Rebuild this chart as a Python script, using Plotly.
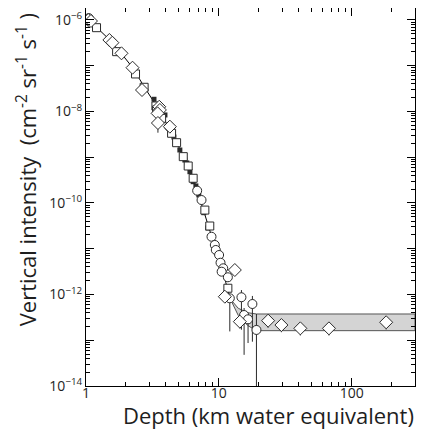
import plotly.graph_objects as go

# ---------------- data ----------------
curve_x = [1.0, 1.21, 1.51, 1.86, 2.25, 2.78, 3.47, 4.28, 5.27, 6.37, 7.57, 8.86, 10.2, 11.3, 12.2]
curve_y = [1.15e-6, 6.8e-7, 3.66e-7, 1.8e-7, 9e-8, 3.25e-8, 1.2e-8, 4e-9, 1.24e-9, 3.2e-10,
           7.8e-11, 1.8e-11, 5.1e-12, 1.8e-12, 8.0e-13]

band_x = [12.2, 14.0, 16.5, 19.2, 300]
band_upper = [8.0e-13, 5.0e-13, 4.0e-13, 3.75e-13, 3.75e-13]
band_lower = [8.0e-13, 3.5e-13, 2.1e-13, 1.62e-13, 1.62e-13]

diam_x = [1.04, 1.09, 1.50, 1.58, 1.85, 2.24, 2.64, 3.56, 3.60, 3.46, 3.48, 4.28,
          13.2, 11.1, 14.4, 23.5, 29.6, 41.1, 67.5, 182]
diam_y = [1.0e-6, 9.5e-7, 3.66e-7, 3.19e-7, 1.87e-7, 9.06e-8, 2.95e-8, 1.27e-8, 1.08e-8,
          9.1e-9, 5.6e-9, 4.66e-9, 3.43e-12, 8.95e-13, 2.55e-13, 2.68e-13, 2.15e-13,
          1.82e-13, 1.82e-13, 2.47e-13]
diam_err_plus = [0, 0, 0, 0, 0, 0, 0, 0, 0, 0, 2.1e-9, 0, 0.56e-12, 0, 0.3e-13, 0.3e-13,
                 0.3e-13, 0.3e-13, 0.3e-13, 0.3e-13]
diam_err_minus = [0, 0, 0, 0, 0, 0, 0, 0, 0, 0, 2.16e-9, 0, 0.48e-12, 0, 0.75e-13, 0.8e-13,
                  0.65e-13, 0.55e-13, 0.55e-13, 0.75e-13]

sq_x = [1.20, 1.70, 2.36, 2.74, 3.36, 3.40, 3.71, 4.41, 4.81, 5.40, 5.88, 6.41, 7.85, 8.55, 11.7]
sq_y = [6.79e-7, 2.03e-7, 6.61e-8, 3.38e-8, 1.32e-8, 1.08e-8, 7.1e-9, 3.34e-9, 2.08e-9,
        1.03e-9, 6.44e-10, 3.47e-10, 7.0e-11, 3.14e-11, 1.37e-12]

circ_x = [1.05, 4.23, 6.87, 7.41, 8.81, 9.33, 9.49, 10.05, 10.3, 10.8, 10.5, 11.7,
          12.1, 14.8, 15.5, 17.9, 16.6, 19.2]
circ_y = [1.1e-6, 4.66e-9, 1.86e-10, 1.16e-10, 1.83e-11, 1.21e-11, 9.4e-12, 7.3e-12,
          4.95e-12, 3.74e-12, 3.15e-12, 2.38e-12, 8.26e-13, 8.7e-13, 3.56e-13, 6.2e-13,
          2.87e-13, 1.68e-13]
circ_err_plus = [0, 0, 0, 0, 0, 0, 0, 0, 0, 0, 0, 0, 2.0e-13, 3.8e-13, 1.5e-13, 3.1e-13,
                 1.0e-13, 2.07e-13]
circ_err_minus = [0, 0, 0, 0, 0, 0, 0, 0, 0, 0, 0, 0, 6.7e-13, 7.0e-13, 3.08e-13, 5.27e-13,
                  2.0e-13, 1.6799e-13]

fill_x = [3.25, 3.93, 4.59, 5.09, 5.55, 5.74, 6.06, 6.41, 6.72, 7.07, 7.71, 8.26]
fill_y = [1.85e-8, 8.4e-9, 2.77e-9, 1.44e-9, 8.7e-10, 7.5e-10, 4.83e-10, 2.92e-10,
          2.36e-10, 1.5e-10, 6.14e-11, 2.85e-11]

x_tickvals = [1, 10, 100]
x_ticktext = ["1", "10", "100"]
y_label_vals = [1e-14, 1e-12, 1e-10, 1e-8, 1e-6]
y_label_text = ["10<sup>\u221214</sup>", "10<sup>\u221212</sup>", "10<sup>\u221210</sup>",
                "10<sup>\u22128</sup>", "10<sup>\u22126</sup>"]
y_odd_decades = [1e-13, 1e-11, 1e-9, 1e-7]

FONT = "Open Sans"
DARK = "#2a2a2a"
TXT = "#1e1e1e"
Y_RANGE = [-14, -5.738]

fig = go.Figure()

# shaded neutrino band (closed polygon)
fig.add_trace(go.Scatter(
    x=band_x + band_x[::-1], y=band_upper + band_lower[::-1],
    mode="lines", fill="toself", fillcolor="#d4d4d4",
    line=dict(color="#555555", width=1), hoverinfo="skip", showlegend=False))

# fit curve
fig.add_trace(go.Scatter(x=curve_x, y=curve_y, mode="lines",
                         line=dict(color="black", width=1), showlegend=False))

# small filled markers
fig.add_trace(go.Scatter(x=fill_x, y=fill_y, mode="markers",
                         marker=dict(symbol="square", size=5, color=DARK,
                                     line=dict(width=0)), showlegend=False))

# open squares
fig.add_trace(go.Scatter(x=sq_x, y=sq_y, mode="markers",
                         marker=dict(symbol="square", size=8, color="white",
                                     line=dict(color=DARK, width=1)), showlegend=False))

# open circles
fig.add_trace(go.Scatter(
    x=circ_x, y=circ_y, mode="markers",
    error_y=dict(type="data", symmetric=False, array=circ_err_plus,
                 arrayminus=circ_err_minus, color=DARK, thickness=1, width=0),
    marker=dict(symbol="circle", size=9, color="white", line=dict(color=DARK, width=1)),
    showlegend=False))

# open diamonds
fig.add_trace(go.Scatter(
    x=diam_x, y=diam_y, mode="markers",
    error_y=dict(type="data", symmetric=False, array=diam_err_plus,
                 arrayminus=diam_err_minus, color=DARK, thickness=1, width=0),
    marker=dict(symbol="diamond", size=10, color="white", line=dict(color=DARK, width=1)),
    showlegend=False))

# empty trace so the tick-only overlay axis is drawn
fig.add_trace(go.Scatter(x=[], y=[], yaxis="y2", showlegend=False, hoverinfo="skip"))

x_minor = [m * 10 ** e for e in range(0, 3) for m in range(2, 10) if m * 10 ** e <= 300]
y_minor = [m * 10.0 ** e for e in range(-14, -5) for m in range(2, 10)]

fig.update_layout(
    xaxis=dict(
        type="log", range=[0, 2.4771], tickmode="array", tickvals=x_tickvals,
        ticktext=x_ticktext, ticks="inside", ticklen=8, tickwidth=1, tickcolor="black",
        showline=True, linecolor="black", linewidth=1, mirror="ticks",
        showgrid=False, zeroline=False, ticklabelstandoff=-6,
        tickfont=dict(family=FONT, size=14, color=TXT),
        minor=dict(ticks="inside", ticklen=4, tickwidth=1, tickcolor="black",
                   tickmode="array", tickvals=x_minor, showgrid=False)),
    yaxis=dict(
        type="log", range=Y_RANGE, tickmode="array", tickvals=y_label_vals,
        ticktext=y_label_text, ticks="inside", ticklen=8, tickwidth=1, tickcolor="black",
        showline=True, linecolor="black", linewidth=1, mirror="ticks",
        showgrid=False, zeroline=False,
        tickfont=dict(family=FONT, size=14, color=TXT),
        minor=dict(ticks="inside", ticklen=4, tickwidth=1, tickcolor="black",
                   tickmode="array", tickvals=y_minor, showgrid=False)),
    yaxis2=dict(
        type="log", range=Y_RANGE, overlaying="y", side="left", tickmode="array",
        tickvals=y_odd_decades, showticklabels=False, ticks="inside", ticklen=8,
        tickwidth=1, tickcolor="black", showline=False, mirror="ticks",
        showgrid=False, zeroline=False),
)

fig.add_annotation(text="Depth (km water equivalent)", xref="paper", yref="paper",
                   x=1.0, y=-0.0767, xanchor="right", yanchor="middle", showarrow=False,
                   borderpad=0, font=dict(family=FONT, size=22, color=TXT))
fig.add_annotation(text="Vertical intensity  (cm<sup>-2</sup> sr<sup>-1</sup> s<sup>-1</sup> )",
                   xref="paper", yref="paper", x=-0.182, y=0.571, textangle=-90,
                   xanchor="center", yanchor="middle", showarrow=False,
                   font=dict(family=FONT, size=22, color=TXT))

fig.update_layout(width=424, height=421, margin=dict(l=78, r=17, t=0, b=43),
                  plot_bgcolor="white", paper_bgcolor="white", showlegend=False)

fig.write_html("out.html")
